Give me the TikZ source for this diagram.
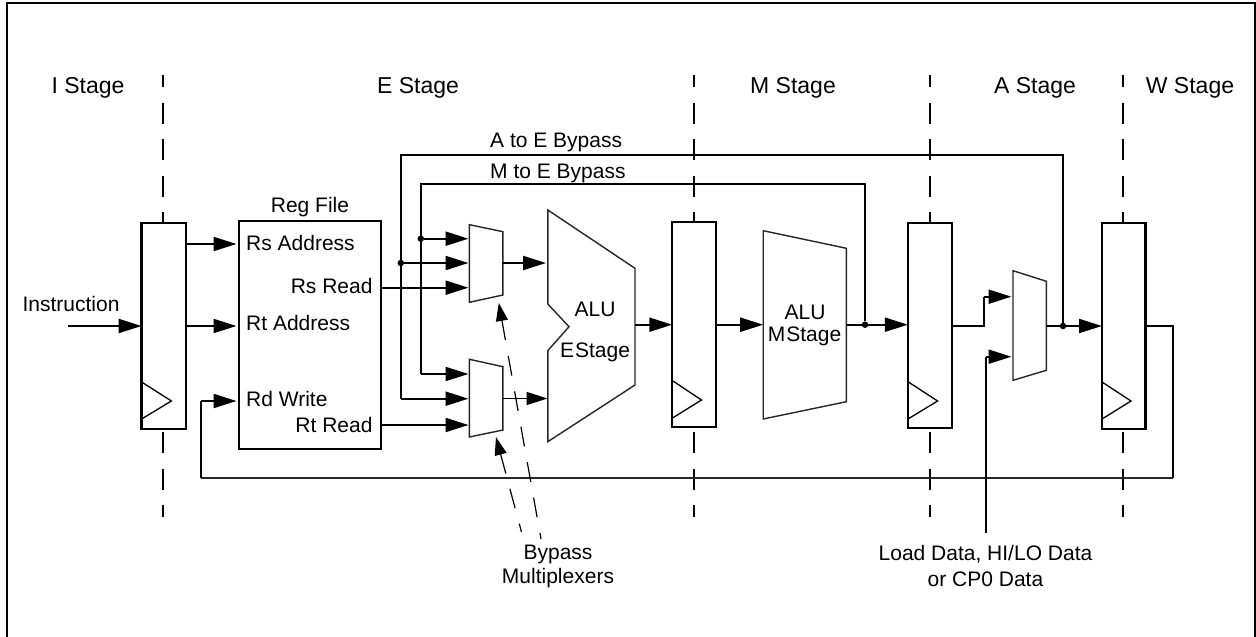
\documentclass[tikz,border=0pt]{standalone}
\usepackage{fontspec}
\setmainfont{Liberation Sans}
\usetikzlibrary{arrows.meta}
\tikzset{
  frameline/.style={line width=2.4pt,black},
  stageline/.style={line width=2.3pt,black,dash pattern=on 21pt off 15.6pt,dash phase=9pt},
  regbox/.style={draw,line width=2.3pt,fill=white,inner sep=0pt,outer sep=0pt},
  clk/.style={line width=1.3pt,black},
  blockshape/.style={draw,line width=1.4pt,fill=white,draw=black!85},
  conn/.style={line width=2.1pt,black},
  thinconn/.style={line width=1.5pt,black!85},
  arr/.style={conn,-{Triangle[length=23pt,width=14pt]}},
  thinarr/.style={line width=1.5pt,black,-{Triangle[length=21pt,width=13pt]}},
  hint/.style={line width=1.2pt,black,dash pattern=on 20pt off 16pt,{Triangle[length=18pt,width=12pt]}-},
  dot/.style={circle,fill=black,inner sep=0pt,minimum size=6.5pt},
  title/.style={inner sep=0pt,font=\fontsize{23}{23}\selectfont,anchor=base},
  lbl/.style={inner sep=0pt,font=\fontsize{21}{21}\selectfont,anchor=base},
  lblw/.style={lbl,anchor=base west},
  lble/.style={lbl,anchor=base east},
}
\begin{document}
\begin{tikzpicture}[x=1pt,y=-1pt]
\useasboundingbox (0,0) rectangle (1256,637);
\fill[white] (0,0) rectangle (1256,637);
% frame (open at the bottom)
\coordinate (fbl) at (7,637); \coordinate (ftl) at (7,3);
\coordinate (ftr) at (1255,3); \coordinate (fbr) at (1255,637);
\draw[frameline] (fbl) -- (ftl) -- (ftr) -- (fbr);
% stage titles
\node[title] (tI) at (88,93) {I Stage};
\node[title] (tE) at (418,93) {E Stage};
\node[title] (tM) at (793,93) {M Stage};
\node[title] (tA) at (1035,93) {A Stage};
\node[title] (tW) at (1190,93) {W Stage};
% stage separators
\foreach \n/\x in {a/163,b/694,c/930,d/1123.3}{
  \coordinate (s\n t) at (\x,75); \coordinate (s\n b) at (\x,517);
  \draw[stageline] (s\n t) -- (s\n b);
}
% pipeline registers
\node[regbox,minimum width=44.4pt,minimum height=206.3pt] (ireg) at (163.8,325.9) {};
\node[regbox,minimum width=43.7pt,minimum height=205pt] (ereg) at (694.1,324.2) {};
\node[regbox,minimum width=44.2pt,minimum height=205pt] (mreg) at (930,325.2) {};
\node[regbox,minimum width=43.4pt,minimum height=206.3pt] (wreg) at (1123.7,325.9) {};
\node[regbox,minimum width=142pt,minimum height=228.3pt] (rf) at (309.8,334.9) {};
% clock triangles
\coordinate (c1a) at (141.6,382); \coordinate (c1b) at (171.4,401); \coordinate (c1c) at (141.6,419);
\coordinate (c2a) at (672.5,380.7); \coordinate (c2b) at (701.5,400); \coordinate (c2c) at (672.5,418);
\coordinate (c3a) at (908,381.7); \coordinate (c3b) at (937.6,401); \coordinate (c3c) at (908,419);
\coordinate (c4a) at (1102,382); \coordinate (c4b) at (1131,401); \coordinate (c4c) at (1102,419);
\foreach \i in {1,2,3,4}{\draw[clk] (c\i a) -- (c\i b) -- (c\i c);}
% multiplexers
\coordinate (m1a) at (469.4,224.7); \coordinate (m1b) at (502.9,231.7); \coordinate (m1c) at (502.9,295); \coordinate (m1d) at (469.4,302.3);
\coordinate (m2a) at (469.4,359.3); \coordinate (m2b) at (502.9,366.7); \coordinate (m2c) at (502.9,430); \coordinate (m2d) at (469.4,437);
\coordinate (m3a) at (1013,270.7); \coordinate (m3b) at (1046.4,281.3); \coordinate (m3c) at (1046.4,370.3); \coordinate (m3d) at (1013,380.3);
\foreach \i in {1,2,3}{\draw[blockshape] (m\i a) -- (m\i b) -- (m\i c) -- (m\i d) -- cycle;}
% ALUs
\coordinate (e1) at (547.8,210); \coordinate (e2) at (635,268.3); \coordinate (e3) at (635,385);
\coordinate (e4) at (547.8,441.7); \coordinate (e5) at (547.8,350.7); \coordinate (e6) at (569,326.7); \coordinate (e7) at (547.8,304);
\draw[blockshape] (e1) -- (e2) -- (e3) -- (e4) -- (e5) -- (e6) -- (e7) -- cycle;
\coordinate (a1) at (763.2,230.7); \coordinate (a2) at (846.4,248.3); \coordinate (a3) at (846.4,401.7); \coordinate (a4) at (763.2,419);
\draw[blockshape] (a1) -- (a2) -- (a3) -- (a4) -- cycle;
% ports
\coordinate (rsA) at (236.5,244); \coordinate (rtA) at (236.5,326); \coordinate (rdW) at (236.5,401);
\coordinate (m1i1) at (468.5,238.7); \coordinate (m1i2) at (468.5,263); \coordinate (m1i3) at (468.5,287.7);
\coordinate (m2i1) at (468.5,374); \coordinate (m2i2) at (468.5,398.7); \coordinate (m2i3) at (468.5,425);
\coordinate (m1o) at (501.5,263); \coordinate (m2o) at (501.5,398.5);
\coordinate (alu1) at (546,263); \coordinate (alu2) at (547.5,398.5);
\coordinate (m3i1) at (1011.5,296.7); \coordinate (m3i2) at (1011.5,356.7);
% junctions
\node[dot] (jA) at (400.8,263) {};
\node[dot] (jM) at (420.8,238.7) {};
\node[dot] (jAout) at (1063,326) {};
\node[dot] (jMout) at (865,324.7) {};
% named free ends
\coordinate (instr) at (68,326);
\coordinate (fbk1) at (1173,326); \coordinate (fbk2) at (1173,478); \coordinate (fbk3) at (201.2,478); \coordinate (fbk4) at (201.2,401);
\coordinate (bA1) at (1063,154.7); \coordinate (bA2) at (400.8,154.7); \coordinate (bA3) at (400.8,398.7);
\coordinate (bM1) at (865,183.7); \coordinate (bM2) at (420.8,183.7); \coordinate (bM3) at (420.8,374);
\coordinate (st1) at (984,326); \coordinate (st2) at (984,296.7);
\coordinate (ld1) at (986,533); \coordinate (ld2) at (986,356.7);
\coordinate (h1) at (541,539); \coordinate (h1t) at (498.8,303);
\coordinate (h2) at (521.5,532); \coordinate (h2t) at (496,437);
% connectors
\draw[arr] (instr) -- (instr -| ireg.west);
\draw[arr] (ireg.east |- rsA) -- (rsA);
\draw[arr] (ireg.east |- rtA) -- (rtA);
\draw[thinconn] (fbk2) -- (fbk3);
\draw[conn] (wreg.east |- fbk1) -- (fbk1) -- (fbk2);
\draw[conn] (fbk3) -- (fbk4);
\draw[arr] (fbk4) -- (rdW);
\draw[arr] (rf.east |- m1i3) -- (m1i3);
\draw[arr] (rf.east |- m2i3) -- (m2i3);
\draw[conn] (jAout) -- (bA1) -- (bA2) -- (bA3);
\draw[arr] (bA3) -- (m2i2);
\draw[conn] (jMout) -- (bM1) -- (bM2) -- (bM3);
\draw[arr] (bM3) -- (m2i1);
\draw[arr] (jA) -- (m1i2);
\draw[arr] (jM) -- (m1i1);
\draw[arr] (m1o) -- (alu1);
\draw[thinarr] (m2o) -- (alu2);
\draw[arr] (e2 |- jMout) -- (ereg.west |- jMout);
\draw[arr] (ereg.east |- jMout) -- (a1 |- jMout);
\draw[arr] (a2 |- jMout) -- (mreg.west |- jMout);
\draw[conn] (mreg.east |- st1) -- (st1) -- (st2);
\draw[arr] (st2) -- (m3i1);
\draw[conn] (ld1) -- (ld2);
\draw[arr] (ld2) -- (m3i2);
\draw[arr] (m3b |- jAout) -- (wreg.west |- jAout);
\draw[hint] (h1t) -- (h1);
\draw[hint] (h2t) -- (h2);
% texts
\node[lblw] (lInstr) at (22.4,311.7) {Instruction};
\node[lbl] (lRF) at (310,212.7) {Reg File};
\node[lblw] (lRsA) at (246,250.7) {Rs Address};
\node[lble] (lRsR) at (372.7,293) {Rs Read};
\node[lblw] (lRtA) at (246,330.7) {Rt Address};
\node[lblw] (lRdW) at (246,406.7) {Rd Write};
\node[lble] (lRtR) at (372.7,432) {Rt Read};
\node[lblw] (lAE) at (490,147.3) {A to E Bypass};
\node[lblw] (lME) at (490,178.3) {M to E Bypass};
\node[lbl] (lALU1) at (595,316) {ALU};
\node[lbl] (lES) at (595,357.7) {E\hspace{1pt}Stage};
\node[lbl] (lALU2) at (805,319) {ALU};
\node[lbl] (lMS) at (804.6,341.7) {M\hspace{1pt}Stage};
\node[lbl] (lB1) at (558,559) {Bypass};
\node[lbl] (lB2) at (558,583.3) {Multiplexers};
\node[lbl] (lL1) at (985.5,560) {Load Data, HI/LO Data};
\node[lbl] (lL2) at (985.5,586.7) {or CP0 Data};
\end{tikzpicture}
\end{document}
